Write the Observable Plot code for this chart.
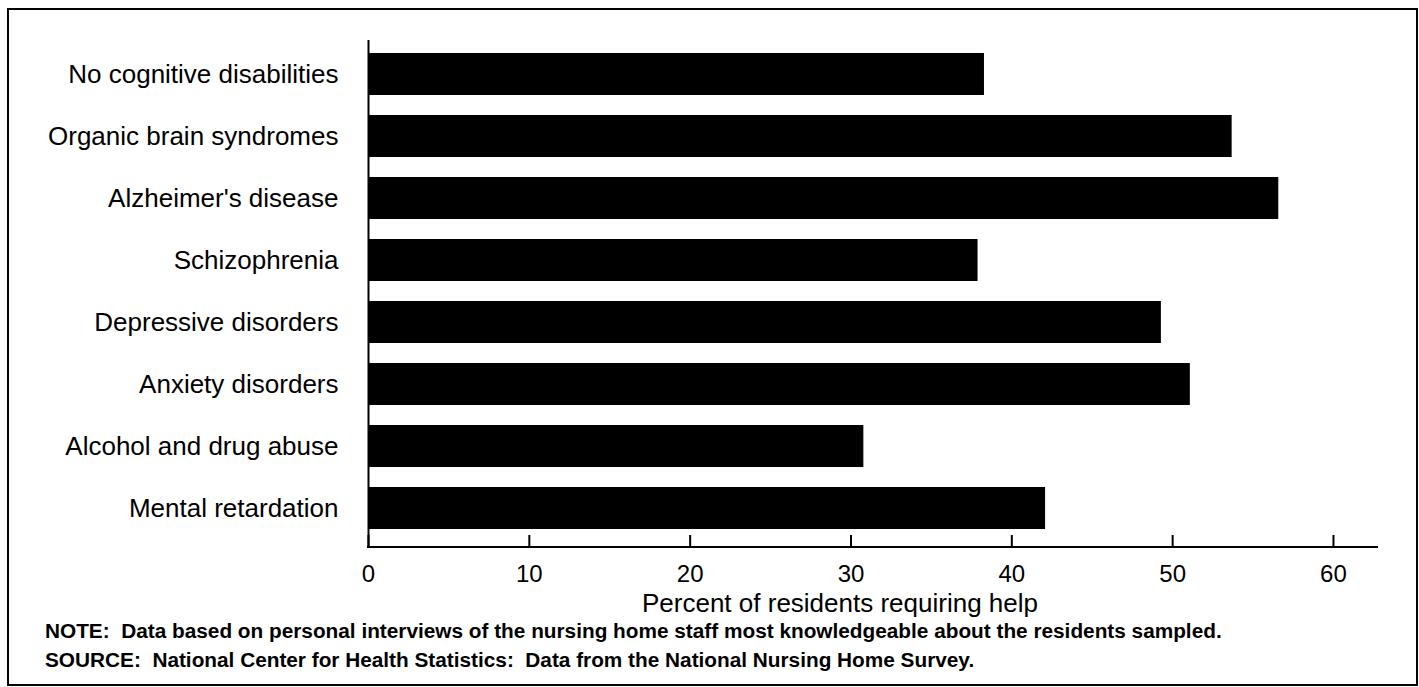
<!DOCTYPE html>
<html>
<head>
<meta charset="utf-8">
<script src="https://cdn.jsdelivr.net/npm/d3@7"></script>
<script src="https://cdn.jsdelivr.net/npm/@observablehq/plot@0.6"></script>
<style>
  body { margin: 0; background: #fff; font-family: "Liberation Sans", Arial, Helvetica, sans-serif; color: #000; }
  #wrap { position: relative; width: 1419px; height: 687px; overflow: hidden; background: #fff; }
  #border { position: absolute; left: 7px; top: 8px; width: 1411px; height: 678px; border: 2px solid #000; box-sizing: border-box; }
  #chart { position: absolute; left: 0; top: 0; }
  .xtitle { position: absolute; left: 840px; top: 590px; transform: translateX(-50%); font-size: 26px; line-height: 1; white-space: nowrap; }
  .note { position: absolute; left: 45px; font-size: 20px; font-weight: bold; line-height: 1; white-space: pre; }
</style>
</head>
<body>
<div id="wrap">
  <div id="border"></div>
  <div id="chart"></div>
  <div class="xtitle">Percent of residents requiring help</div>
  <div class="note" id="note1" style="top:621px">NOTE:  Data based on personal interviews of the nursing home staff most knowledgeable about the residents sampled.</div>
  <div class="note" id="note2" style="top:650px">SOURCE:  National Center for Health Statistics:  Data from the National Nursing Home Survey.</div>
</div>
<script>
const categories = [
  "No cognitive disabilities",
  "Organic brain syndromes",
  "Alzheimer's disease",
  "Schizophrenia",
  "Depressive disorders",
  "Anxiety disorders",
  "Alcohol and drug abuse",
  "Mental retardation"
];
const percents = [38.3, 53.7, 56.6, 37.9, 49.3, 51.1, 30.8, 42.1];
const xTicks = [0, 10, 20, 30, 40, 50, 60];

const data = categories.map((c, i) => ({ category: c, percent: percents[i] }));

const axisLine = (index, scales, values, dims) => {
  const g = d3.create("svg:line")
    .attr("x1", dims.marginLeft - 1)
    .attr("x2", dims.width - dims.marginRight)
    .attr("y1", dims.height - dims.marginBottom)
    .attr("y2", dims.height - dims.marginBottom)
    .attr("stroke", "#000")
    .attr("stroke-width", 2);
  return g.node();
};

const chart = Plot.plot({
  width: 1419,
  height: 615,
  marginLeft: 368,
  marginRight: 41,
  marginTop: 40,
  marginBottom: 68,
  style: { fontFamily: "'Liberation Sans', Arial, Helvetica, sans-serif", color: "#000", background: "transparent" },
  x: { domain: [0, 62.8], label: null },
  y: { domain: categories, range: [41, 541], paddingInner: 0.33, paddingOuter: 0.165, label: null },
  marks: [
    Plot.barX(data, { x: "percent", y: "category", fill: "#000" }),
    Plot.ruleX([0], { stroke: "#000", strokeWidth: 2 }),
    axisLine,
    Plot.axisX({ ticks: xTicks, tickSize: -12, tickFormat: () => "", strokeWidth: 2, label: null }),
    Plot.axisX({ ticks: xTicks, tickSize: 0, tickPadding: 17, fontSize: 24, label: null }),
    Plot.axisY({ tickSize: 0, tickPadding: 30, fontSize: 26, label: null })
  ]
});
document.getElementById("chart").appendChild(chart);

// fit the note lines to the reference's text widths
const n1 = document.getElementById("note1"), n2 = document.getElementById("note2");
const w1 = n1.getBoundingClientRect().width, w2 = n2.getBoundingClientRect().width;
const fs = 20 * ((1170 / w1) + (935 / w2)) / 2;
n1.style.fontSize = n2.style.fontSize = fs.toFixed(2) + "px";
</script>
</body>
</html>
